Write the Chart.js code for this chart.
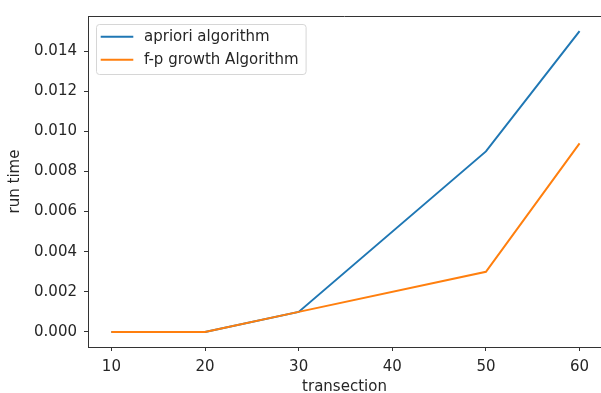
<!DOCTYPE html>
<html>
<head>
<meta charset="utf-8">
<script src="https://cdn.jsdelivr.net/npm/chart.js@4/dist/chart.umd.min.js"></script>
<style>
  html, body { margin: 0; padding: 0; background: #fff; overflow: hidden; }
</style>
</head>
<body>
<canvas id="runtimeChart" width="601" height="393"></canvas>
<script>
// run time per number of transactions
const transections = [10, 20, 30, 50, 60];
const aprioriTimes = [0, 0, 0.001, 0.009, 0.015];
const fpGrowthTimes = [0, 0, 0.001, 0.003, 0.0094];

const xTicks = [10, 20, 30, 40, 50, 60];
const yTicks = [0, 0.002, 0.004, 0.006, 0.008, 0.010, 0.012, 0.014];

const seriesNames = ['apriori algorithm', 'f-p growth Algorithm'];
const seriesColors = ['#1f77b4', '#ff7f0e'];

const FONT = { family: "'DejaVu Sans'", size: 15 };
const TEXT = '#262626';
const AXIS = '#333';

function toPoints(values) {
    return values.map((v, i) => ({ x: transections[i], y: v }));
}

// top spine (the right one falls just outside the canvas)
const frame = {
    id: 'frame',
    afterDatasetsDraw(chart) {
        const a = chart.chartArea;
        const ctx = chart.ctx;
        ctx.save();
        ctx.strokeStyle = AXIS;
        ctx.lineWidth = 1;
        ctx.beginPath();
        ctx.moveTo(a.left, a.top + 0.5);
        ctx.lineTo(a.right, a.top + 0.5);
        ctx.stroke();
        ctx.restore();
    }
};

// legend box in the upper left corner of the plot
const innerLegend = {
    id: 'innerLegend',
    afterDraw(chart) {
        const a = chart.chartArea;
        const ctx = chart.ctx;
        ctx.save();
        ctx.font = FONT.size + 'px ' + FONT.family;
        const sets = chart.data.datasets;
        const textW = Math.max(...sets.map(d => ctx.measureText(d.label).width));
        const x = a.left + 8, y = a.top + 8;
        const w = 48 + textW + 7, h = 50;
        ctx.fillStyle = 'rgba(255,255,255,0.8)';
        ctx.strokeStyle = '#d6d6d6';
        ctx.lineWidth = 1;
        ctx.beginPath();
        ctx.roundRect(x + 0.5, y + 0.5, w, h, 3);
        ctx.fill();
        ctx.stroke();
        sets.forEach((d, i) => {
            const cy = y + 12.7 + i * 23;
            ctx.strokeStyle = d.borderColor;
            ctx.lineWidth = 2;
            ctx.beginPath();
            ctx.moveTo(x + 4.7, cy);
            ctx.lineTo(x + 37.3, cy);
            ctx.stroke();
            ctx.fillStyle = TEXT;
            ctx.textBaseline = 'middle';
            ctx.fillText(d.label, x + 48, cy);
        });
        ctx.restore();
    }
};

const ctx = document.getElementById('runtimeChart').getContext('2d');
new Chart(ctx, {
    type: 'line',
    data: {
        datasets: [{
            label: seriesNames[0],
            data: toPoints(aprioriTimes),
            borderColor: seriesColors[0],
            borderWidth: 2,
            pointRadius: 0,
            order: 1
        }, {
            label: seriesNames[1],
            data: toPoints(fpGrowthTimes),
            borderColor: seriesColors[1],
            borderWidth: 2,
            pointRadius: 0,
            order: 0
        }]
    },
    options: {
        responsive: false,
        animation: false,
        devicePixelRatio: 1,
        layout: { padding: { top: 12, right: 0, left: 0, bottom: 0 } },
        plugins: {
            legend: { display: false },
            tooltip: { enabled: false }
        },
        scales: {
            x: {
                type: 'linear',
                min: 7.5,
                max: 62.29,
                afterBuildTicks: s => { s.ticks = xTicks.map(v => ({ value: v })); },
                afterFit: s => { s.height = 46; },
                grid: { drawOnChartArea: false, tickLength: 4, tickColor: AXIS },
                border: { color: AXIS, width: 1 },
                ticks: { font: FONT, color: TEXT, padding: 7, maxRotation: 0, callback: v => String(v) },
                title: { display: true, text: 'transection', font: FONT, color: TEXT, padding: { top: 0, bottom: -3 } }
            },
            y: {
                min: -0.00075,
                max: 0.01575,
                afterBuildTicks: s => { s.ticks = yTicks.map(v => ({ value: v })); },
                afterFit: s => { s.width = 88; },
                grid: { drawOnChartArea: false, tickLength: 4, tickColor: AXIS },
                border: { color: AXIS, width: 1 },
                ticks: { font: FONT, color: TEXT, padding: 7, callback: v => v.toFixed(3) },
                title: { display: true, text: 'run time', font: FONT, color: TEXT, padding: { top: 6, bottom: 0 } }
            }
        }
    },
    plugins: [frame, innerLegend]
});
</script>
</body>
</html>
